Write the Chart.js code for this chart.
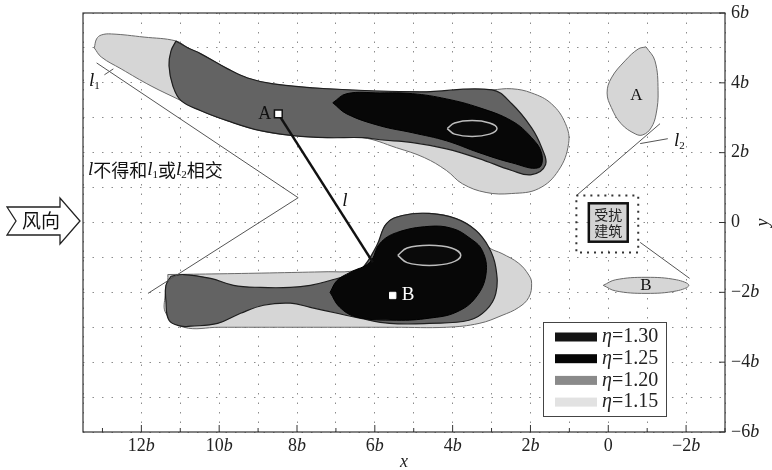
<!DOCTYPE html>
<html>
<head>
<meta charset="utf-8">
<script src="https://cdn.jsdelivr.net/npm/chart.js@4.4.1/dist/chart.umd.min.js"></script>
<style>
  html, body { margin: 0; padding: 0; background: #fff; }
  #wrap { width: 772px; height: 470px; position: relative; }
</style>
</head>
<body>
<div id="wrap"><canvas id="chart"></canvas></div>
<script>
const SERIF = '"Liberation Serif", "DejaVu Serif", serif';
const CJK = '"Noto Sans CJK SC", "Noto Sans CJK JP", sans-serif';

// axes in units of b; x runs from 13.5b (left) to -3b (right)
const xTicks = [12, 10, 8, 6, 4, 2, 0, -2];
const yTicks = [6, 4, 2, 0, -2, -4, -6];

const etaLevels = ['1.30', '1.25', '1.20', '1.15'];
const etaColors = ['#141414', '#050505', '#8a8a8a', '#e2e2e2'];

// upper contour group
const upperLight = [
    [13.21, 5.00], [13.15, 5.26], [13.03, 5.37], [12.77, 5.40], [11.93, 5.31], [11.11, 5.20],
    [10.80, 5.00], [10.47, 4.83], [9.78, 4.40], [9.27, 4.14], [8.61, 3.97], [7.23, 3.83],
    [4.85, 3.74], [2.99, 3.80], [2.48, 3.83], [1.97, 3.71], [1.46, 3.40], [1.10, 2.83],
    [1.02, 2.26], [1.28, 1.49], [1.79, 0.97], [2.48, 0.83], [3.14, 0.86], [3.75, 1.11],
    [4.16, 1.49], [4.73, 1.86], [5.44, 2.14], [6.31, 2.43], [7.23, 2.43], [8.10, 2.49],
    [8.94, 2.63], [9.78, 2.91], [10.47, 3.20], [10.98, 3.49], [11.75, 3.91], [12.52, 4.40],
    [13.03, 4.74]
];
const upperGrey = [
    [11.11, 5.20], [10.80, 5.00], [10.47, 4.83], [9.78, 4.40], [9.27, 4.14], [8.61, 3.97],
    [7.23, 3.83], [4.85, 3.74], [2.99, 3.80], [2.48, 3.40], [1.97, 2.71], [1.71, 2.14],
    [1.61, 1.66], [1.97, 1.37], [2.48, 1.49], [3.32, 1.83], [4.16, 2.11], [5.03, 2.29],
    [5.87, 2.37], [6.31, 2.43], [7.23, 2.43], [8.10, 2.49], [8.94, 2.63], [9.78, 2.91],
    [10.47, 3.20], [10.98, 3.49], [11.19, 3.91], [11.29, 4.49], [11.24, 4.91]
];
const upperBlack = [
    [7.08, 3.43], [6.72, 3.69], [5.87, 3.71], [5.03, 3.69], [4.16, 3.54], [3.32, 3.29],
    [2.48, 2.91], [1.97, 2.43], [1.71, 1.97], [1.79, 1.57], [2.48, 1.71], [3.32, 2.00],
    [4.16, 2.34], [5.03, 2.57], [5.87, 2.77], [6.72, 3.11]
];
const upperCore = [
    [4.14, 2.69], [3.95, 2.85], [3.50, 2.92], [3.05, 2.85], [2.86, 2.69], [3.05, 2.53],
    [3.50, 2.46], [3.95, 2.53]
];

// lower contour group
const lowerLight = [
    [11.32, -1.49], [10.0, -1.47], [8.5, -1.44], [7.2, -1.41], [6.64, -1.40], [6.31, -1.29],
    [5.95, -0.71], [5.70, -0.03], [5.29, 0.20], [4.60, 0.26], [3.91, 0.11], [3.40, -0.23],
    [3.07, -0.71], [2.73, -0.89], [2.30, -1.17], [2.04, -1.51], [1.97, -1.74], [2.04, -2.14],
    [2.30, -2.43], [2.73, -2.66], [3.32, -2.89], [4.16, -3.00], [5.5, -3.00], [7.0, -3.00],
    [8.5, -3.00], [10.0, -3.00], [10.91, -3.00], [11.37, -2.60], [11.39, -2.09], [11.32, -1.66]
];
const lowerGrey = [
    [11.24, -1.54], [10.91, -1.49], [10.22, -1.60], [9.63, -1.80], [8.94, -1.86], [8.17, -1.86],
    [7.66, -1.80], [7.15, -1.66], [6.64, -1.49], [6.31, -1.29], [5.95, -0.66], [5.70, -0.03],
    [5.29, 0.20], [4.60, 0.26], [3.91, 0.11], [3.40, -0.23], [3.07, -0.71], [2.89, -1.29],
    [2.89, -2.03], [3.14, -2.51], [3.58, -2.80], [4.60, -2.89], [5.62, -2.89], [6.39, -2.74],
    [6.97, -2.60], [7.66, -2.43], [8.17, -2.31], [8.86, -2.37], [9.45, -2.60], [10.04, -2.89],
    [10.73, -2.97], [10.98, -2.97], [11.29, -2.80], [11.37, -2.23], [11.37, -1.80]
];
const lowerBlack = [
    [7.15, -2.00], [6.97, -1.66], [6.64, -1.43], [6.13, -1.14], [5.87, -0.60], [5.44, -0.29],
    [4.60, -0.11], [4.01, -0.17], [3.58, -0.43], [3.24, -0.80], [3.14, -1.46], [3.40, -2.14],
    [3.91, -2.57], [4.60, -2.74], [5.44, -2.80], [6.46, -2.71], [6.90, -2.43]
];
const lowerCore = [
    [5.41, -0.94], [5.17, -0.73], [4.60, -0.65], [4.03, -0.73], [3.79, -0.94], [4.03, -1.15],
    [4.60, -1.23], [5.17, -1.15]
];

// zones behind the disturbed building
const zoneA = [
    [-0.97, 5.03], [-1.20, 4.63], [-1.28, 3.77], [-1.23, 3.11], [-1.10, 2.71], [-0.89, 2.51],
    [-0.69, 2.54], [-0.33, 2.83], [-0.08, 3.29], [0.03, 3.71], [-0.08, 4.14], [-0.43, 4.63],
    [-0.77, 4.97]
];
const zoneB = [
    [0.13, -1.80], [-0.19, -1.64], [-0.97, -1.57], [-1.75, -1.64], [-2.07, -1.80], [-1.75, -1.96],
    [-0.97, -2.03], [-0.19, -1.96]
];

// boundary lines and the connecting line l
const lineL1 = [[13.15, 4.57], [7.97, 0.71], [11.83, -2.03]];
const lineL2 = [[0.82, 0.77], [-1.33, 2.83]];
const pointerL2 = [[-0.82, 2.26], [-1.53, 2.40]];
const pointerB = [[-0.82, -0.57], [-2.09, -1.60]];
const pointerL1 = [[12.95, 4.23], [12.72, 4.40]];
const pointA = [8.48, 3.11];
const pointB = [5.54, -2.09];
const lineL = [pointA, [6.05, -1.14]];

const pts = arr => arr.map(p => ({ x: p[0], y: p[1] }));
const closed = arr => pts(arr.concat([arr[0]]));

function region(data, fillColor, lineColor, width, order) {
    return {
        data: closed(data),
        showLine: true,
        fill: 'shape',
        backgroundColor: fillColor,
        borderColor: lineColor,
        borderWidth: width,
        pointRadius: 0,
        tension: 0.4,
        order: order,
    };
}

function segment(data, color, width) {
    return {
        data: pts(data),
        showLine: true,
        fill: false,
        borderColor: color,
        borderWidth: width,
        pointRadius: 0,
        tension: 0,
        order: 1,
    };
}

function drawParts(ctx, parts, x, y, align) {
    let w = 0;
    parts.forEach(p => { ctx.font = p[1]; w += ctx.measureText(p[0]).width; });
    let cx = align === 'center' ? x - w / 2 : (align === 'right' ? x - w : x);
    ctx.textAlign = 'left';
    ctx.textBaseline = 'middle';
    parts.forEach(p => {
        ctx.font = p[1];
        ctx.fillText(p[0], cx, y + (p[2] || 0));
        cx += ctx.measureText(p[0]).width;
    });
}

function tickParts(v) {
    if (v === 0) return [['0', '18px ' + SERIF]];
    return [[(v < 0 ? '\u2212' : '') + Math.abs(v), '18px ' + SERIF], ['b', 'italic 18px ' + SERIF]];
}

const decorations = {
    id: 'decorations',
    afterDatasetsDraw(chart) {
        const { ctx, chartArea: a, scales: { x, y } } = chart;
        const px = v => x.getPixelForValue(v);
        const py = v => y.getPixelForValue(v);
        const line = (x1, y1, x2, y2) => { ctx.beginPath(); ctx.moveTo(x1, y1); ctx.lineTo(x2, y2); ctx.stroke(); };
        const it = s => 'italic ' + s + 'px ' + SERIF;
        const rm = s => s + 'px ' + SERIF;
        const cj = s => s + 'px ' + CJK;

        ctx.save();

        // frame and ticks
        ctx.strokeStyle = '#333';
        ctx.lineWidth = 1.2;
        ctx.strokeRect(a.left, a.top, a.right - a.left, a.bottom - a.top);
        ctx.lineWidth = 1;
        for (let v = -3; v <= 13; v++) {
            const len = v % 2 === 0 ? 7 : 4;
            line(px(v), a.bottom, px(v), a.bottom - len);
        }
        yTicks.forEach(v => line(a.right - 6, py(v), a.right, py(v)));

        // tick labels
        ctx.fillStyle = '#222';
        xTicks.forEach(v => drawParts(ctx, tickParts(v), px(v), a.bottom + 14, 'center'));
        yTicks.forEach(v => drawParts(ctx, tickParts(v), a.right + 6, py(v), 'left'));
        drawParts(ctx, [['x', it(18)]], (a.left + a.right) / 2, a.bottom + 30, 'center');
        ctx.save();
        ctx.translate(a.right + 38, py(0));
        ctx.rotate(-Math.PI / 2);
        drawParts(ctx, [['y', it(18)]], 0, 0, 'center');
        ctx.restore();

        // point labels
        ctx.fillStyle = '#111';
        drawParts(ctx, [['A', rm(18)]], px(pointA[0]) - 7, py(pointA[1]), 'right');
        ctx.fillStyle = '#fff';
        drawParts(ctx, [['B', rm(19)]], px(pointB[0]) + 9, py(pointB[1]), 'left');
        ctx.fillStyle = '#111';
        drawParts(ctx, [['A', rm(17)]], px(-0.72), py(3.63), 'center');
        drawParts(ctx, [['B', rm(17)]], px(-0.97), py(-1.8), 'center');
        drawParts(ctx, [['l', it(19)]], px(6.77), py(0.63), 'center');
        drawParts(ctx, [['l', it(19)], ['1', rm(11), 5]], px(13.21), py(4.06), 'center');
        drawParts(ctx, [['l', it(19)], ['2', rm(11), 5]], px(-1.69), py(2.34), 'left');
        drawParts(ctx, [
            ['l', it(19)], ['不得和', cj(18)], ['l', it(19)], ['1', rm(11), 5],
            ['或', cj(18)], ['l', it(19)], ['2', rm(11), 5], ['相交', cj(18)]
        ], a.left + 5, py(1.49), 'left');

        // disturbed building
        ctx.setLineDash([2, 5]);
        ctx.lineWidth = 2;
        ctx.strokeStyle = '#333';
        ctx.strokeRect(px(0.82), py(0.77), px(-0.77) - px(0.82), py(-0.86) - py(0.77));
        ctx.setLineDash([]);
        const bx = px(0.5), by = py(0.55), bw = px(-0.5) - px(0.5), bh = py(-0.55) - py(0.55);
        ctx.fillStyle = '#d4d4d4';
        ctx.fillRect(bx, by, bw, bh);
        ctx.lineWidth = 2.5;
        ctx.strokeStyle = '#111';
        ctx.strokeRect(bx, by, bw, bh);
        ctx.fillStyle = '#222';
        drawParts(ctx, [['受扰', cj(14)]], bx + bw / 2, by + bh * 0.3, 'center');
        drawParts(ctx, [['建筑', cj(14)]], bx + bw / 2, by + bh * 0.72, 'center');

        // wind direction arrow
        ctx.beginPath();
        ctx.moveTo(7, 207);
        ctx.lineTo(60, 207);
        ctx.lineTo(60, 198);
        ctx.lineTo(80, 221);
        ctx.lineTo(60, 244);
        ctx.lineTo(60, 235);
        ctx.lineTo(7, 235);
        ctx.lineTo(16, 221);
        ctx.closePath();
        ctx.fillStyle = '#fff';
        ctx.fill();
        ctx.lineWidth = 1.3;
        ctx.strokeStyle = '#222';
        ctx.stroke();
        ctx.fillStyle = '#111';
        drawParts(ctx, [['风向', cj(19)]], 41, 221, 'center');

        // legend
        const lx = a.right - 182, ly = a.bottom - 110;
        ctx.fillStyle = '#fff';
        ctx.fillRect(lx, ly, 123, 94);
        ctx.lineWidth = 1;
        ctx.strokeStyle = '#444';
        ctx.strokeRect(lx + 0.5, ly + 0.5, 123, 94);
        etaLevels.forEach((lv, i) => {
            const cy = ly + 15 + i * 21.7;
            ctx.fillStyle = etaColors[i];
            ctx.fillRect(lx + 12, cy - 4.5, 42, 9);
            ctx.fillStyle = '#222';
            drawParts(ctx, [['η', it(20)], ['=' + lv, rm(20)]], lx + 59, cy, 'left');
        });

        ctx.restore();
    }
};

const gridOpts = { color: '#8c8c8c', lineWidth: 1, drawTicks: false };
const borderOpts = { display: false, dash: [1.5, 8] };

new Chart(document.getElementById('chart'), {
    type: 'scatter',
    data: {
        datasets: [
            region(upperLight, '#d6d6d6', '#6a6a6a', 1, 5),
            region(lowerLight, '#d6d6d6', '#6a6a6a', 1, 5),
            region(zoneA, '#d6d6d6', '#6a6a6a', 1, 5),
            region(zoneB, '#d6d6d6', '#6a6a6a', 1, 5),
            region(upperGrey, '#636363', '#1e1e1e', 1.2, 4),
            region(lowerGrey, '#636363', '#1e1e1e', 1.2, 4),
            region(upperBlack, '#070707', '#000', 1, 3),
            region(lowerBlack, '#070707', '#000', 1, 3),
            region(upperCore, '#0a0a0a', '#bdbdbd', 1.5, 2),
            region(lowerCore, '#0a0a0a', '#bdbdbd', 1.5, 2),
            segment(lineL1, '#555', 1),
            segment(pointerL1, '#555', 1),
            segment(lineL2, '#555', 1),
            segment(pointerL2, '#555', 1),
            segment(pointerB, '#555', 1),
            segment(lineL, '#111', 2.5),
            {
                data: pts([pointA]),
                pointStyle: 'rect',
                pointRadius: 5.5,
                backgroundColor: '#fff',
                borderColor: '#111',
                borderWidth: 1.5,
                order: 0,
            },
            {
                data: pts([pointB]),
                pointStyle: 'rect',
                pointRadius: 4.5,
                backgroundColor: '#fff',
                borderColor: '#fff',
                borderWidth: 1,
                order: 0,
            },
        ],
    },
    options: {
        responsive: true,
        maintainAspectRatio: false,
        animation: false,
        events: [],
        layout: { padding: { left: 83, right: 47, top: 13, bottom: 38 } },
        plugins: {
            legend: { display: false },
            tooltip: { enabled: false },
        },
        scales: {
            x: {
                type: 'linear',
                reverse: true,
                min: -3,
                max: 13.5,
                ticks: { display: false, stepSize: 1 },
                grid: gridOpts,
                border: borderOpts,
            },
            y: {
                type: 'linear',
                position: 'right',
                min: -6,
                max: 6,
                ticks: { display: false, stepSize: 1 },
                grid: gridOpts,
                border: borderOpts,
            },
        },
    },
    plugins: [decorations],
});
</script>
</body>
</html>
